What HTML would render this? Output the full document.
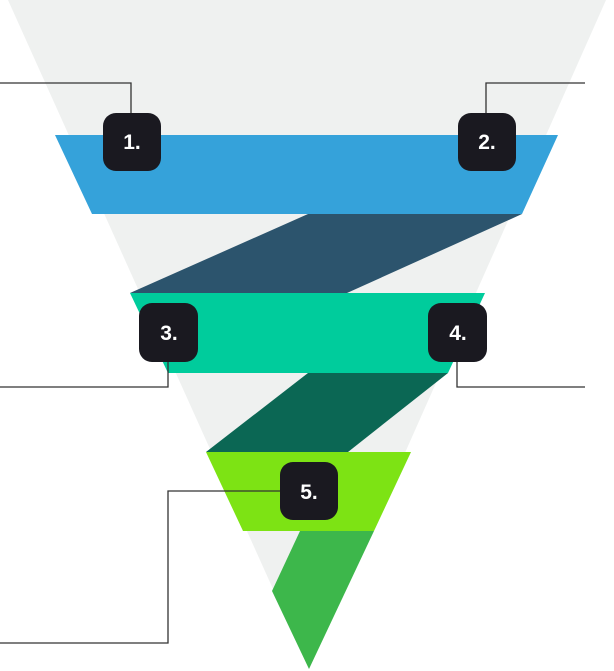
<!DOCTYPE html>
<html><head><style>body{margin:0;background:#fff}svg{display:block}</style></head><body>
<svg width="614" height="671" viewBox="0 0 614 671" xmlns="http://www.w3.org/2000/svg">
<polygon points="8,0 606,0 309,669" fill="#eff1f0"/>
<polygon points="55,135 558,135 522,214 92,214" fill="#35a2da"/>
<polygon points="308,214 522,214 347,293 130,293" fill="#2c546d"/>
<polygon points="130,293 485,293 448,373 168,373" fill="#00cc9c"/>
<polygon points="308,373 448,373 348,452 206,452" fill="#0b6754"/>
<polygon points="206,452 411,452 374,531 243,531" fill="#7de314"/>
<polygon points="300,531 374,531 309,669 272,591" fill="#3db74b"/>
<g fill="none" stroke="#333" stroke-width="1.3">
<polyline points="0,83 131,83 131,113"/>
<polyline points="585,83 486,83 486,113"/>
<polyline points="0,387 168,387 168,362"/>
<polyline points="457,362 457,387 585,387"/>
<polyline points="0,643 168,643 168,491 280,491"/>
</g>
<g fill="#1a1920">
<rect x="103" y="113" width="58" height="58" rx="13"/>
<rect x="458" y="113" width="58" height="58" rx="13"/>
<rect x="139" y="303" width="59" height="59" rx="13"/>
<rect x="428" y="303" width="59" height="59" rx="13"/>
<rect x="280" y="462" width="58" height="58" rx="13"/>
</g>
<g fill="#fff" font-family="Liberation Sans, sans-serif" font-weight="bold" font-size="21" text-anchor="middle">
<text x="132" y="149">1.</text>
<text x="487" y="149">2.</text>
<text x="169" y="340">3.</text>
<text x="458" y="340">4.</text>
<text x="309" y="499">5.</text>
</g>
</svg>
</body></html>
